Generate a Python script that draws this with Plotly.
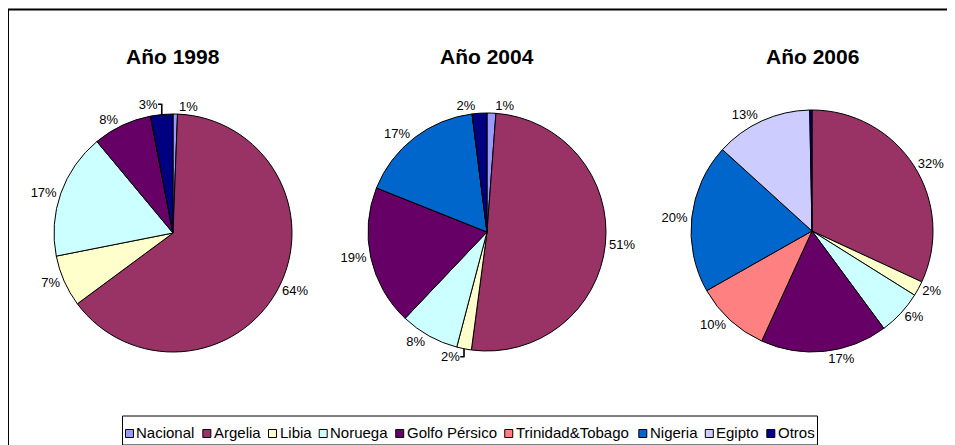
import plotly.graph_objects as go

labels = ["Nacional", "Argelia", "Libia", "Noruega", "Golfo Pérsico",
          "Trinidad&Tobago", "Nigeria", "Egipto", "Otros"]
colors = ["#9999FF", "#993366", "#FFFFCC", "#CCFFFF", "#660066",
          "#FF8080", "#0066CC", "#CCCCFF", "#000080"]

years = ["Año 1998", "Año 2004", "Año 2006"]
v1998 = [0.6, 64, 7, 17, 8, 0, 0, 0, 3]
v2004 = [1.2, 51, 2, 8, 19, 0, 17, 0, 2]
v2006 = [0, 32, 2, 6, 17, 10, 20, 13, 0.3]
series = [v1998, v2004, v2006]

OFF = 8                      # page body margin
W, H = 955 - OFF, 445 - OFF
FONT = "Liberation Sans, Arial, DejaVu Sans"

# pie placement in screen pixels: center x, center y, radius
geo = [(173, 233, 119), (487, 232, 119), (812, 231, 121)]


def px(x):
    return (x - OFF) / W


def py(y):
    return (H - (y - OFF)) / H


fig = go.Figure()
for i, (vals, (cx, cy, r)) in enumerate(zip(series, geo)):
    total = sum(vals)
    txt = [f"{round(v / total * 100):.0f}%" if round(v / total * 100) > 0 else "" for v in vals]
    fig.add_trace(go.Pie(
        labels=labels, values=vals, text=txt, textinfo="text",
        textposition="outside", sort=False, direction="clockwise",
        rotation=0,
        marker=dict(colors=colors, line=dict(color="black", width=1)),
        textfont=dict(family=FONT, size=13, color="black"),
        domain=dict(x=[px(cx - r), px(cx + r)], y=[py(cy + r), py(cy - r)]),
        showlegend=False, hoverinfo="label+percent",
    ))
    fig.add_annotation(x=px(cx), y=py(57), xref="paper", yref="paper",
                       text=f"<b>{years[i]}</b>", showarrow=False,
                       font=dict(family=FONT, size=21, color="black"),
                       xanchor="center", yanchor="middle")

# outer frame
fig.add_shape(type="rect", xref="paper", yref="paper",
              x0=0, x1=1.05, y0=-0.05, y1=py(9.5),
              line=dict(color="black", width=2), fillcolor="rgba(0,0,0,0)")

# ---- legend: Liberation Sans (Arial-metric) advance widths, per 1000 em
ADV = {"N": 722, "a": 556, "c": 500, "i": 222, "o": 556, "n": 556, "l": 222,
       "A": 667, "r": 333, "g": 556, "e": 556, "L": 556, "b": 556, "u": 556,
       "G": 778, "f": 278, " ": 278, "P": 667, "é": 556, "s": 500, "T": 611,
       "d": 556, "&": 667, "E": 667, "p": 556, "t": 278, "O": 778}
LFS = 15
SQ, GAP1, GAP2, PAD = 8, 3, 8, 3


def tw(s):
    return sum(ADV.get(ch, 556) for ch in s) * LFS / 1000


total_w = PAD + sum(SQ + GAP1 + tw(l) + GAP2 for l in labels) - GAP2 + PAD
left = 470 - total_w / 2
top, bot = 416, 445
fig.add_shape(type="rect", xref="paper", yref="paper",
              x0=px(left), x1=px(left + total_w), y0=py(bot), y1=py(top),
              line=dict(color="black", width=1), fillcolor="white", layer="above")
cur = left + PAD
for lab, col in zip(labels, colors):
    fig.add_shape(type="rect", xref="paper", yref="paper",
                  x0=px(cur), x1=px(cur + SQ), y0=py(437.5), y1=py(429.5),
                  line=dict(color="black", width=1), fillcolor=col, layer="above")
    fig.add_annotation(x=px(cur + SQ + GAP1), y=py(432), xref="paper", yref="paper",
                       text=lab, showarrow=False, xanchor="left", yanchor="middle",
                       borderpad=0, borderwidth=0,
                       font=dict(family=FONT, size=LFS, color="black"))
    cur += SQ + GAP1 + tw(lab) + GAP2

fig.update_layout(
    width=W, height=H, margin=dict(l=0, r=0, t=0, b=0),
    paper_bgcolor="white", plot_bgcolor="white",
    showlegend=False,
)
fig.write_html("out.html")
